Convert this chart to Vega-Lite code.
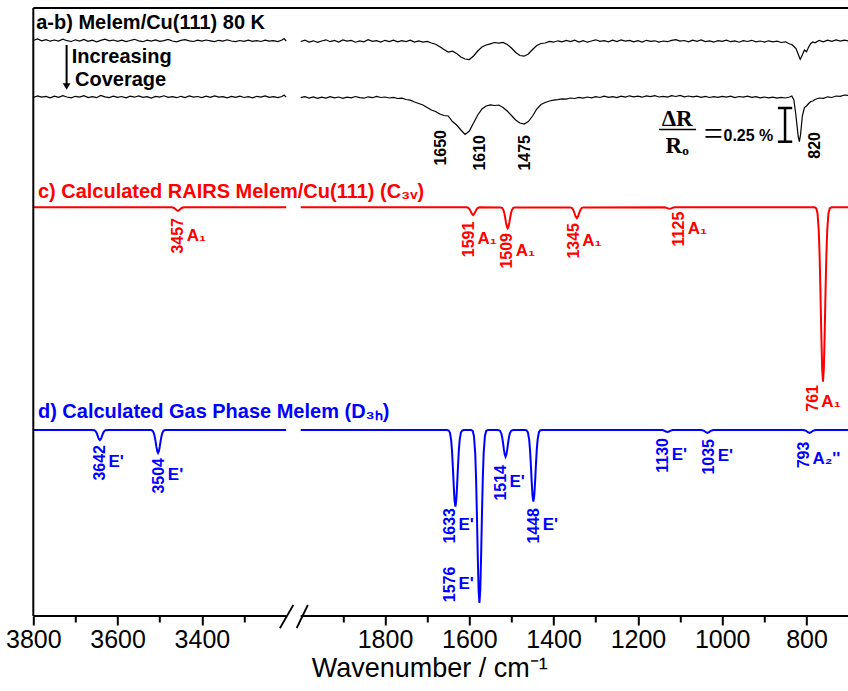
{
"$schema": "https://vega.github.io/schema/vega-lite/v6.json",
"width": 815,
"height": 608,
"autosize": "none",
"padding": {"left": 33.3, "top": 8, "right": 0, "bottom": 75},
"background": "white",
"config": {"view": {"stroke": null}},
"resolve": {"axis": {"x": "independent"}},
"datasets": {
"a": [
{"wn":3800,"v":575.5,"seg":"L"},{"wn":3790,"v":577.0,"seg":"L"},{"wn":3780,"v":575.2,"seg":"L"},{"wn":3770,"v":576.4,"seg":"L"},{"wn":3760,"v":574.8,"seg":"L"},{"wn":3750,"v":576.0,"seg":"L"},{"wn":3740,"v":575.0,"seg":"L"},{"wn":3730,"v":576.8,"seg":"L"},{"wn":3720,"v":575.3,"seg":"L"},{"wn":3710,"v":574.5,"seg":"L"},{"wn":3700,"v":576.2,"seg":"L"},{"wn":3690,"v":575.0,"seg":"L"},{"wn":3680,"v":576.5,"seg":"L"},{"wn":3670,"v":574.6,"seg":"L"},{"wn":3660,"v":575.8,"seg":"L"},{"wn":3650,"v":574.2,"seg":"L"},{"wn":3640,"v":575.6,"seg":"L"},{"wn":3630,"v":576.9,"seg":"L"},{"wn":3620,"v":575.1,"seg":"L"},{"wn":3610,"v":576.0,"seg":"L"},{"wn":3600,"v":574.7,"seg":"L"},{"wn":3590,"v":575.9,"seg":"L"},{"wn":3580,"v":574.4,"seg":"L"},{"wn":3570,"v":575.5,"seg":"L"},{"wn":3560,"v":576.7,"seg":"L"},{"wn":3550,"v":575.2,"seg":"L"},{"wn":3540,"v":574.3,"seg":"L"},{"wn":3530,"v":575.8,"seg":"L"},{"wn":3520,"v":574.9,"seg":"L"},{"wn":3510,"v":576.1,"seg":"L"},{"wn":3500,"v":574.6,"seg":"L"},{"wn":3490,"v":575.4,"seg":"L"},{"wn":3480,"v":576.6,"seg":"L"},{"wn":3470,"v":575.0,"seg":"L"},{"wn":3460,"v":574.2,"seg":"L"},{"wn":3450,"v":575.6,"seg":"L"},{"wn":3440,"v":576.3,"seg":"L"},{"wn":3430,"v":575.1,"seg":"L"},{"wn":3420,"v":574.5,"seg":"L"},{"wn":3410,"v":575.9,"seg":"L"},{"wn":3400,"v":574.8,"seg":"L"},{"wn":3390,"v":576.0,"seg":"L"},{"wn":3380,"v":575.2,"seg":"L"},{"wn":3370,"v":574.4,"seg":"L"},{"wn":3360,"v":575.7,"seg":"L"},{"wn":3350,"v":574.9,"seg":"L"},{"wn":3340,"v":576.2,"seg":"L"},{"wn":3330,"v":575.0,"seg":"L"},{"wn":3320,"v":574.3,"seg":"L"},{"wn":3310,"v":575.5,"seg":"L"},{"wn":3300,"v":574.6,"seg":"L"},{"wn":3290,"v":575.8,"seg":"L"},{"wn":3280,"v":574.7,"seg":"L"},{"wn":3270,"v":575.4,"seg":"L"},{"wn":3260,"v":574.5,"seg":"L"},{"wn":3250,"v":575.9,"seg":"L"},{"wn":3240,"v":574.8,"seg":"L"},{"wn":3230,"v":575.3,"seg":"L"},{"wn":3220,"v":574.4,"seg":"L"},{"wn":3210,"v":576.0,"seg":"L"},{"wn":3205,"v":577.5,"seg":"L"},{"wn":3200,"v":575.0,"seg":"L"},
{"wn":2000,"v":574.5,"seg":"R"},{"wn":1990,"v":575.8,"seg":"R"},{"wn":1980,"v":574.0,"seg":"R"},{"wn":1970,"v":575.2,"seg":"R"},{"wn":1960,"v":573.6,"seg":"R"},{"wn":1950,"v":575.0,"seg":"R"},{"wn":1940,"v":576.2,"seg":"R"},{"wn":1930,"v":574.3,"seg":"R"},{"wn":1920,"v":575.5,"seg":"R"},{"wn":1910,"v":574.0,"seg":"R"},{"wn":1900,"v":576.0,"seg":"R"},{"wn":1890,"v":574.8,"seg":"R"},{"wn":1880,"v":575.6,"seg":"R"},{"wn":1870,"v":573.8,"seg":"R"},{"wn":1860,"v":575.1,"seg":"R"},{"wn":1850,"v":574.2,"seg":"R"},{"wn":1840,"v":576.3,"seg":"R"},{"wn":1830,"v":574.6,"seg":"R"},{"wn":1820,"v":575.4,"seg":"R"},{"wn":1810,"v":573.9,"seg":"R"},{"wn":1800,"v":575.7,"seg":"R"},{"wn":1790,"v":574.5,"seg":"R"},{"wn":1780,"v":575.9,"seg":"R"},{"wn":1770,"v":574.1,"seg":"R"},{"wn":1760,"v":575.3,"seg":"R"},{"wn":1750,"v":574.4,"seg":"R"},{"wn":1740,"v":575.8,"seg":"R"},{"wn":1730,"v":574.0,"seg":"R"},{"wn":1720,"v":575.1,"seg":"R"},{"wn":1710,"v":573.9,"seg":"R"},{"wn":1700,"v":574.6,"seg":"R"},{"wn":1690,"v":573.0,"seg":"R"},{"wn":1680,"v":571.8,"seg":"R"},{"wn":1670,"v":569.2,"seg":"R"},{"wn":1660,"v":566.5,"seg":"R"},{"wn":1650,"v":564.0,"seg":"R"},{"wn":1640,"v":564.8,"seg":"R"},{"wn":1630,"v":562.5,"seg":"R"},{"wn":1620,"v":559.0,"seg":"R"},{"wn":1610,"v":557.0,"seg":"R"},{"wn":1600,"v":556.5,"seg":"R"},{"wn":1590,"v":560.0,"seg":"R"},{"wn":1580,"v":565.0,"seg":"R"},{"wn":1570,"v":569.0,"seg":"R"},{"wn":1560,"v":571.0,"seg":"R"},{"wn":1550,"v":572.2,"seg":"R"},{"wn":1540,"v":573.5,"seg":"R"},{"wn":1530,"v":572.8,"seg":"R"},{"wn":1520,"v":573.6,"seg":"R"},{"wn":1510,"v":571.5,"seg":"R"},{"wn":1500,"v":568.0,"seg":"R"},{"wn":1490,"v":563.5,"seg":"R"},{"wn":1480,"v":560.5,"seg":"R"},{"wn":1470,"v":559.8,"seg":"R"},{"wn":1460,"v":562.0,"seg":"R"},{"wn":1450,"v":566.5,"seg":"R"},{"wn":1440,"v":570.5,"seg":"R"},{"wn":1430,"v":572.5,"seg":"R"},{"wn":1420,"v":573.0,"seg":"R"},{"wn":1410,"v":574.6,"seg":"R"},{"wn":1400,"v":573.8,"seg":"R"},{"wn":1390,"v":575.2,"seg":"R"},{"wn":1380,"v":574.1,"seg":"R"},{"wn":1370,"v":575.6,"seg":"R"},{"wn":1360,"v":574.4,"seg":"R"},{"wn":1350,"v":575.9,"seg":"R"},{"wn":1340,"v":574.0,"seg":"R"},{"wn":1330,"v":575.4,"seg":"R"},{"wn":1320,"v":573.8,"seg":"R"},{"wn":1310,"v":575.0,"seg":"R"},{"wn":1300,"v":576.2,"seg":"R"},{"wn":1290,"v":574.6,"seg":"R"},{"wn":1280,"v":575.3,"seg":"R"},{"wn":1270,"v":574.2,"seg":"R"},{"wn":1260,"v":575.8,"seg":"R"},{"wn":1250,"v":574.5,"seg":"R"},{"wn":1240,"v":576.0,"seg":"R"},{"wn":1230,"v":574.9,"seg":"R"},{"wn":1220,"v":575.6,"seg":"R"},{"wn":1210,"v":574.1,"seg":"R"},{"wn":1200,"v":575.4,"seg":"R"},{"wn":1190,"v":574.0,"seg":"R"},{"wn":1180,"v":575.7,"seg":"R"},{"wn":1170,"v":574.6,"seg":"R"},{"wn":1160,"v":575.2,"seg":"R"},{"wn":1150,"v":573.9,"seg":"R"},{"wn":1140,"v":575.0,"seg":"R"},{"wn":1130,"v":574.3,"seg":"R"},{"wn":1120,"v":575.6,"seg":"R"},{"wn":1110,"v":576.4,"seg":"R"},{"wn":1100,"v":574.9,"seg":"R"},{"wn":1090,"v":575.5,"seg":"R"},{"wn":1080,"v":574.2,"seg":"R"},{"wn":1070,"v":575.8,"seg":"R"},{"wn":1060,"v":574.7,"seg":"R"},{"wn":1050,"v":576.0,"seg":"R"},{"wn":1040,"v":574.4,"seg":"R"},{"wn":1030,"v":575.2,"seg":"R"},{"wn":1020,"v":574.0,"seg":"R"},{"wn":1010,"v":575.4,"seg":"R"},{"wn":1000,"v":574.6,"seg":"R"},{"wn":990,"v":575.9,"seg":"R"},{"wn":980,"v":574.3,"seg":"R"},{"wn":970,"v":575.1,"seg":"R"},{"wn":960,"v":573.8,"seg":"R"},{"wn":950,"v":575.3,"seg":"R"},{"wn":940,"v":574.5,"seg":"R"},{"wn":930,"v":575.7,"seg":"R"},{"wn":920,"v":574.2,"seg":"R"},{"wn":910,"v":575.0,"seg":"R"},{"wn":900,"v":573.9,"seg":"R"},{"wn":890,"v":575.2,"seg":"R"},{"wn":880,"v":574.1,"seg":"R"},{"wn":870,"v":574.8,"seg":"R"},{"wn":860,"v":573.5,"seg":"R"},{"wn":850,"v":574.2,"seg":"R"},{"wn":840,"v":572.0,"seg":"R"},{"wn":835,"v":571.5,"seg":"R"},{"wn":830,"v":569.5,"seg":"R"},{"wn":825,"v":567.5,"seg":"R"},{"wn":820,"v":562.0,"seg":"R"},{"wn":815,"v":556.7,"seg":"R"},{"wn":810,"v":561.0,"seg":"R"},{"wn":805,"v":566.0,"seg":"R"},{"wn":800,"v":564.3,"seg":"R"},{"wn":795,"v":569.0,"seg":"R"},{"wn":790,"v":572.5,"seg":"R"},{"wn":785,"v":574.0,"seg":"R"},{"wn":780,"v":573.2,"seg":"R"},{"wn":770,"v":575.5,"seg":"R"},{"wn":760,"v":574.2,"seg":"R"},{"wn":750,"v":575.8,"seg":"R"},{"wn":740,"v":574.6,"seg":"R"},{"wn":730,"v":576.0,"seg":"R"},{"wn":720,"v":574.8,"seg":"R"},{"wn":710,"v":575.9,"seg":"R"},{"wn":700,"v":575.0,"seg":"R"}
],
"b": [
{"wn":3800,"v":518.5,"seg":"L"},{"wn":3790,"v":520.0,"seg":"L"},{"wn":3780,"v":518.8,"seg":"L"},{"wn":3770,"v":519.6,"seg":"L"},{"wn":3760,"v":518.2,"seg":"L"},{"wn":3750,"v":519.9,"seg":"L"},{"wn":3740,"v":518.6,"seg":"L"},{"wn":3730,"v":520.3,"seg":"L"},{"wn":3720,"v":519.0,"seg":"L"},{"wn":3710,"v":518.1,"seg":"L"},{"wn":3700,"v":519.7,"seg":"L"},{"wn":3690,"v":518.9,"seg":"L"},{"wn":3680,"v":520.4,"seg":"L"},{"wn":3670,"v":518.5,"seg":"L"},{"wn":3660,"v":519.4,"seg":"L"},{"wn":3650,"v":518.3,"seg":"L"},{"wn":3640,"v":520.6,"seg":"L"},{"wn":3630,"v":519.2,"seg":"L"},{"wn":3620,"v":518.4,"seg":"L"},{"wn":3610,"v":519.8,"seg":"L"},{"wn":3600,"v":518.7,"seg":"L"},{"wn":3590,"v":519.5,"seg":"L"},{"wn":3580,"v":518.2,"seg":"L"},{"wn":3570,"v":519.9,"seg":"L"},{"wn":3560,"v":518.8,"seg":"L"},{"wn":3550,"v":520.1,"seg":"L"},{"wn":3540,"v":518.6,"seg":"L"},{"wn":3530,"v":519.3,"seg":"L"},{"wn":3520,"v":518.0,"seg":"L"},{"wn":3510,"v":519.6,"seg":"L"},{"wn":3500,"v":518.9,"seg":"L"},{"wn":3490,"v":520.2,"seg":"L"},{"wn":3480,"v":518.7,"seg":"L"},{"wn":3470,"v":519.4,"seg":"L"},{"wn":3460,"v":518.3,"seg":"L"},{"wn":3450,"v":519.7,"seg":"L"},{"wn":3440,"v":518.5,"seg":"L"},{"wn":3430,"v":520.0,"seg":"L"},{"wn":3420,"v":518.8,"seg":"L"},{"wn":3410,"v":519.5,"seg":"L"},{"wn":3400,"v":518.4,"seg":"L"},{"wn":3390,"v":519.8,"seg":"L"},{"wn":3380,"v":518.6,"seg":"L"},{"wn":3370,"v":520.1,"seg":"L"},{"wn":3360,"v":518.9,"seg":"L"},{"wn":3350,"v":519.3,"seg":"L"},{"wn":3340,"v":518.2,"seg":"L"},{"wn":3330,"v":519.6,"seg":"L"},{"wn":3320,"v":518.7,"seg":"L"},{"wn":3310,"v":519.9,"seg":"L"},{"wn":3300,"v":518.5,"seg":"L"},{"wn":3290,"v":519.4,"seg":"L"},{"wn":3280,"v":518.1,"seg":"L"},{"wn":3270,"v":519.7,"seg":"L"},{"wn":3260,"v":518.8,"seg":"L"},{"wn":3250,"v":520.0,"seg":"L"},{"wn":3240,"v":518.6,"seg":"L"},{"wn":3230,"v":519.3,"seg":"L"},{"wn":3220,"v":518.4,"seg":"L"},{"wn":3210,"v":519.5,"seg":"L"},{"wn":3205,"v":521.0,"seg":"L"},{"wn":3200,"v":518.8,"seg":"L"},
{"wn":2000,"v":518.3,"seg":"R"},{"wn":1990,"v":519.4,"seg":"R"},{"wn":1980,"v":518.0,"seg":"R"},{"wn":1970,"v":519.1,"seg":"R"},{"wn":1960,"v":517.6,"seg":"R"},{"wn":1950,"v":518.8,"seg":"R"},{"wn":1940,"v":517.9,"seg":"R"},{"wn":1930,"v":519.3,"seg":"R"},{"wn":1920,"v":518.2,"seg":"R"},{"wn":1910,"v":519.0,"seg":"R"},{"wn":1900,"v":517.7,"seg":"R"},{"wn":1890,"v":518.9,"seg":"R"},{"wn":1880,"v":518.1,"seg":"R"},{"wn":1870,"v":519.5,"seg":"R"},{"wn":1860,"v":518.4,"seg":"R"},{"wn":1850,"v":517.8,"seg":"R"},{"wn":1840,"v":519.2,"seg":"R"},{"wn":1830,"v":518.3,"seg":"R"},{"wn":1820,"v":519.6,"seg":"R"},{"wn":1810,"v":518.5,"seg":"R"},{"wn":1800,"v":519.0,"seg":"R"},{"wn":1790,"v":518.0,"seg":"R"},{"wn":1780,"v":518.7,"seg":"R"},{"wn":1770,"v":517.5,"seg":"R"},{"wn":1760,"v":517.8,"seg":"R"},{"wn":1750,"v":516.5,"seg":"R"},{"wn":1740,"v":515.8,"seg":"R"},{"wn":1730,"v":514.0,"seg":"R"},{"wn":1720,"v":512.5,"seg":"R"},{"wn":1710,"v":511.0,"seg":"R"},{"wn":1700,"v":508.5,"seg":"R"},{"wn":1690,"v":506.0,"seg":"R"},{"wn":1680,"v":504.5,"seg":"R"},{"wn":1670,"v":502.0,"seg":"R"},{"wn":1660,"v":500.5,"seg":"R"},{"wn":1650,"v":500.0,"seg":"R"},{"wn":1640,"v":494.5,"seg":"R"},{"wn":1630,"v":491.0,"seg":"R"},{"wn":1620,"v":486.0,"seg":"R"},{"wn":1610,"v":481.5,"seg":"R"},{"wn":1600,"v":485.0,"seg":"R"},{"wn":1590,"v":493.0,"seg":"R"},{"wn":1580,"v":501.0,"seg":"R"},{"wn":1570,"v":507.0,"seg":"R"},{"wn":1560,"v":510.0,"seg":"R"},{"wn":1550,"v":511.2,"seg":"R"},{"wn":1540,"v":510.5,"seg":"R"},{"wn":1530,"v":511.0,"seg":"R"},{"wn":1520,"v":508.5,"seg":"R"},{"wn":1510,"v":505.0,"seg":"R"},{"wn":1500,"v":500.5,"seg":"R"},{"wn":1490,"v":496.0,"seg":"R"},{"wn":1480,"v":493.0,"seg":"R"},{"wn":1470,"v":492.0,"seg":"R"},{"wn":1460,"v":494.5,"seg":"R"},{"wn":1450,"v":500.0,"seg":"R"},{"wn":1440,"v":507.0,"seg":"R"},{"wn":1430,"v":511.5,"seg":"R"},{"wn":1420,"v":513.5,"seg":"R"},{"wn":1410,"v":515.0,"seg":"R"},{"wn":1400,"v":515.8,"seg":"R"},{"wn":1390,"v":516.4,"seg":"R"},{"wn":1380,"v":517.2,"seg":"R"},{"wn":1370,"v":516.8,"seg":"R"},{"wn":1360,"v":518.0,"seg":"R"},{"wn":1350,"v":517.5,"seg":"R"},{"wn":1340,"v":518.6,"seg":"R"},{"wn":1330,"v":517.9,"seg":"R"},{"wn":1320,"v":519.0,"seg":"R"},{"wn":1310,"v":518.2,"seg":"R"},{"wn":1300,"v":519.4,"seg":"R"},{"wn":1290,"v":518.5,"seg":"R"},{"wn":1280,"v":519.8,"seg":"R"},{"wn":1270,"v":518.7,"seg":"R"},{"wn":1260,"v":519.3,"seg":"R"},{"wn":1250,"v":518.4,"seg":"R"},{"wn":1240,"v":519.9,"seg":"R"},{"wn":1230,"v":518.9,"seg":"R"},{"wn":1220,"v":520.2,"seg":"R"},{"wn":1210,"v":519.1,"seg":"R"},{"wn":1200,"v":519.8,"seg":"R"},{"wn":1190,"v":518.8,"seg":"R"},{"wn":1180,"v":520.1,"seg":"R"},{"wn":1170,"v":519.3,"seg":"R"},{"wn":1160,"v":520.4,"seg":"R"},{"wn":1150,"v":519.0,"seg":"R"},{"wn":1140,"v":519.7,"seg":"R"},{"wn":1130,"v":518.9,"seg":"R"},{"wn":1120,"v":520.3,"seg":"R"},{"wn":1110,"v":519.5,"seg":"R"},{"wn":1100,"v":520.6,"seg":"R"},{"wn":1090,"v":519.2,"seg":"R"},{"wn":1080,"v":520.0,"seg":"R"},{"wn":1070,"v":519.1,"seg":"R"},{"wn":1060,"v":519.8,"seg":"R"},{"wn":1050,"v":518.7,"seg":"R"},{"wn":1040,"v":519.6,"seg":"R"},{"wn":1030,"v":518.5,"seg":"R"},{"wn":1020,"v":519.4,"seg":"R"},{"wn":1010,"v":518.6,"seg":"R"},{"wn":1000,"v":519.7,"seg":"R"},{"wn":990,"v":518.9,"seg":"R"},{"wn":980,"v":519.8,"seg":"R"},{"wn":970,"v":518.4,"seg":"R"},{"wn":960,"v":519.5,"seg":"R"},{"wn":950,"v":518.8,"seg":"R"},{"wn":940,"v":519.9,"seg":"R"},{"wn":930,"v":518.6,"seg":"R"},{"wn":920,"v":519.3,"seg":"R"},{"wn":910,"v":518.2,"seg":"R"},{"wn":900,"v":519.0,"seg":"R"},{"wn":890,"v":518.1,"seg":"R"},{"wn":880,"v":518.8,"seg":"R"},{"wn":870,"v":517.9,"seg":"R"},{"wn":860,"v":518.6,"seg":"R"},{"wn":850,"v":518.0,"seg":"R"},{"wn":840,"v":519.0,"seg":"R"},{"wn":835,"v":520.0,"seg":"R"},{"wn":830,"v":516.0,"seg":"R"},{"wn":825,"v":500.0,"seg":"R"},{"wn":820,"v":480.0,"seg":"R"},{"wn":817,"v":474.3,"seg":"R"},{"wn":814,"v":482.0,"seg":"R"},{"wn":810,"v":500.0,"seg":"R"},{"wn":805,"v":508.5,"seg":"R"},{"wn":800,"v":510.0,"seg":"R"},{"wn":795,"v":512.5,"seg":"R"},{"wn":790,"v":514.5,"seg":"R"},{"wn":785,"v":515.0,"seg":"R"},{"wn":780,"v":516.5,"seg":"R"},{"wn":770,"v":518.0,"seg":"R"},{"wn":760,"v":517.6,"seg":"R"},{"wn":750,"v":519.2,"seg":"R"},{"wn":740,"v":518.5,"seg":"R"},{"wn":730,"v":520.0,"seg":"R"},{"wn":720,"v":519.6,"seg":"R"},{"wn":710,"v":521.0,"seg":"R"},{"wn":700,"v":520.5,"seg":"R"}
],
"c": [
{"wn":3800,"v":408.7,"seg":"L"},{"wn":3473,"v":408.7,"seg":"L"},{"wn":3469,"v":408.5,"seg":"L"},{"wn":3466,"v":408.0,"seg":"L"},{"wn":3463,"v":407.0,"seg":"L"},{"wn":3460,"v":405.8,"seg":"L"},{"wn":3457,"v":405.2,"seg":"L"},{"wn":3454,"v":405.8,"seg":"L"},{"wn":3451,"v":407.0,"seg":"L"},{"wn":3448,"v":408.0,"seg":"L"},{"wn":3445,"v":408.5,"seg":"L"},{"wn":3441,"v":408.7,"seg":"L"},{"wn":3200,"v":408.7,"seg":"L"},
{"wn":2000,"v":408.7,"seg":"R"},{"wn":1607,"v":408.7,"seg":"R"},{"wn":1603,"v":408.3,"seg":"R"},{"wn":1600,"v":407.2,"seg":"R"},{"wn":1597,"v":404.9,"seg":"R"},{"wn":1594,"v":402.3,"seg":"R"},{"wn":1591,"v":401.0,"seg":"R"},{"wn":1588,"v":402.3,"seg":"R"},{"wn":1585,"v":404.9,"seg":"R"},{"wn":1582,"v":407.2,"seg":"R"},{"wn":1579,"v":408.3,"seg":"R"},{"wn":1575,"v":408.7,"seg":"R"},
{"wn":1525,"v":408.6,"seg":"R"},{"wn":1522,"v":408.0,"seg":"R"},{"wn":1519,"v":405.9,"seg":"R"},{"wn":1517,"v":402.9,"seg":"R"},{"wn":1515,"v":398.5,"seg":"R"},{"wn":1513,"v":393.5,"seg":"R"},{"wn":1511,"v":389.3,"seg":"R"},{"wn":1509,"v":387.7,"seg":"R"},{"wn":1507,"v":389.3,"seg":"R"},{"wn":1505,"v":393.5,"seg":"R"},{"wn":1503,"v":398.5,"seg":"R"},{"wn":1501,"v":402.9,"seg":"R"},{"wn":1499,"v":405.9,"seg":"R"},{"wn":1496,"v":408.0,"seg":"R"},{"wn":1493,"v":408.6,"seg":"R"},
{"wn":1361,"v":408.6,"seg":"R"},{"wn":1357,"v":408.1,"seg":"R"},{"wn":1354,"v":406.6,"seg":"R"},{"wn":1351,"v":403.5,"seg":"R"},{"wn":1348,"v":399.8,"seg":"R"},{"wn":1345,"v":398.0,"seg":"R"},{"wn":1342,"v":399.8,"seg":"R"},{"wn":1339,"v":403.5,"seg":"R"},{"wn":1336,"v":406.6,"seg":"R"},{"wn":1333,"v":408.1,"seg":"R"},{"wn":1329,"v":408.6,"seg":"R"},
{"wn":1137,"v":408.7,"seg":"R"},{"wn":1133,"v":408.3,"seg":"R"},{"wn":1129,"v":407.6,"seg":"R"},{"wn":1125,"v":407.2,"seg":"R"},{"wn":1121,"v":407.6,"seg":"R"},{"wn":1117,"v":408.3,"seg":"R"},{"wn":1113,"v":408.7,"seg":"R"},
{"wn":781,"v":408.7,"seg":"R"},{"wn":777,"v":407.7,"seg":"R"},{"wn":774,"v":402.8,"seg":"R"},{"wn":771,"v":385.2,"seg":"R"},{"wn":769,"v":360.2,"seg":"R"},{"wn":767,"v":323.8,"seg":"R"},{"wn":765,"v":282.1,"seg":"R"},{"wn":763,"v":247.7,"seg":"R"},{"wn":761,"v":234.3,"seg":"R"},{"wn":759,"v":247.7,"seg":"R"},{"wn":757,"v":282.1,"seg":"R"},{"wn":755,"v":323.8,"seg":"R"},{"wn":753,"v":360.2,"seg":"R"},{"wn":751,"v":385.2,"seg":"R"},{"wn":748,"v":402.8,"seg":"R"},{"wn":745,"v":407.7,"seg":"R"},{"wn":741,"v":408.7,"seg":"R"},{"wn":700,"v":408.7,"seg":"R"}
],
"d": [
{"wn":3800,"v":186,"seg":"L"},{"wn":3662,"v":186,"seg":"L"},{"wn":3655,"v":185.7,"seg":"L"},{"wn":3652,"v":184.7,"seg":"L"},{"wn":3650,"v":183.2,"seg":"L"},{"wn":3648,"v":181.1,"seg":"L"},{"wn":3646,"v":178.7,"seg":"L"},{"wn":3644,"v":176.8,"seg":"L"},{"wn":3642,"v":176.0,"seg":"L"},{"wn":3640,"v":176.8,"seg":"L"},{"wn":3638,"v":178.7,"seg":"L"},{"wn":3636,"v":181.1,"seg":"L"},{"wn":3634,"v":183.2,"seg":"L"},{"wn":3632,"v":184.7,"seg":"L"},{"wn":3629,"v":185.7,"seg":"L"},{"wn":3622,"v":186,"seg":"L"},
{"wn":3524,"v":186,"seg":"L"},{"wn":3520,"v":185.9,"seg":"L"},{"wn":3517,"v":185.2,"seg":"L"},{"wn":3514,"v":182.9,"seg":"L"},{"wn":3512,"v":179.6,"seg":"L"},{"wn":3510,"v":174.8,"seg":"L"},{"wn":3508,"v":169.3,"seg":"L"},{"wn":3506,"v":164.8,"seg":"L"},{"wn":3504,"v":163.0,"seg":"L"},{"wn":3502,"v":164.8,"seg":"L"},{"wn":3500,"v":169.3,"seg":"L"},{"wn":3498,"v":174.8,"seg":"L"},{"wn":3496,"v":179.6,"seg":"L"},{"wn":3494,"v":182.9,"seg":"L"},{"wn":3491,"v":185.2,"seg":"L"},{"wn":3488,"v":185.9,"seg":"L"},{"wn":3484,"v":186,"seg":"L"},{"wn":3200,"v":186,"seg":"L"},
{"wn":2000,"v":186,"seg":"R"},{"wn":1653,"v":186,"seg":"R"},{"wn":1649,"v":185.5,"seg":"R"},{"wn":1646,"v":183.4,"seg":"R"},{"wn":1643,"v":175.6,"seg":"R"},{"wn":1641,"v":164.7,"seg":"R"},{"wn":1639,"v":148.6,"seg":"R"},{"wn":1637,"v":130.3,"seg":"R"},{"wn":1635,"v":115.2,"seg":"R"},{"wn":1633,"v":109.3,"seg":"R"},{"wn":1631,"v":115.2,"seg":"R"},{"wn":1629,"v":130.3,"seg":"R"},{"wn":1627,"v":148.6,"seg":"R"},{"wn":1625,"v":164.7,"seg":"R"},{"wn":1623,"v":175.6,"seg":"R"},{"wn":1620,"v":183.4,"seg":"R"},{"wn":1617,"v":185.5,"seg":"R"},{"wn":1613,"v":186,"seg":"R"},
{"wn":1596,"v":186,"seg":"R"},{"wn":1592,"v":185.0,"seg":"R"},{"wn":1589,"v":180.1,"seg":"R"},{"wn":1586,"v":162.6,"seg":"R"},{"wn":1584,"v":137.9,"seg":"R"},{"wn":1582,"v":101.7,"seg":"R"},{"wn":1580,"v":60.4,"seg":"R"},{"wn":1578,"v":26.3,"seg":"R"},{"wn":1576,"v":13.0,"seg":"R"},{"wn":1574,"v":26.3,"seg":"R"},{"wn":1572,"v":60.4,"seg":"R"},{"wn":1570,"v":101.7,"seg":"R"},{"wn":1568,"v":137.9,"seg":"R"},{"wn":1566,"v":162.6,"seg":"R"},{"wn":1563,"v":180.1,"seg":"R"},{"wn":1560,"v":185.0,"seg":"R"},{"wn":1556,"v":186,"seg":"R"},
{"wn":1534,"v":186,"seg":"R"},{"wn":1530,"v":185.8,"seg":"R"},{"wn":1527,"v":185.1,"seg":"R"},{"wn":1524,"v":182.4,"seg":"R"},{"wn":1522,"v":178.6,"seg":"R"},{"wn":1520,"v":173.0,"seg":"R"},{"wn":1518,"v":166.6,"seg":"R"},{"wn":1516,"v":161.4,"seg":"R"},{"wn":1514,"v":159.3,"seg":"R"},{"wn":1512,"v":161.4,"seg":"R"},{"wn":1510,"v":166.6,"seg":"R"},{"wn":1508,"v":173.0,"seg":"R"},{"wn":1506,"v":178.6,"seg":"R"},{"wn":1504,"v":182.4,"seg":"R"},{"wn":1501,"v":185.1,"seg":"R"},{"wn":1498,"v":185.8,"seg":"R"},{"wn":1494,"v":186,"seg":"R"},
{"wn":1468,"v":186,"seg":"R"},{"wn":1464,"v":185.6,"seg":"R"},{"wn":1461,"v":183.6,"seg":"R"},{"wn":1458,"v":176.3,"seg":"R"},{"wn":1456,"v":166.1,"seg":"R"},{"wn":1454,"v":151.1,"seg":"R"},{"wn":1452,"v":133.9,"seg":"R"},{"wn":1450,"v":119.8,"seg":"R"},{"wn":1448,"v":114.3,"seg":"R"},{"wn":1446,"v":119.8,"seg":"R"},{"wn":1444,"v":133.9,"seg":"R"},{"wn":1442,"v":151.1,"seg":"R"},{"wn":1440,"v":166.1,"seg":"R"},{"wn":1438,"v":176.3,"seg":"R"},{"wn":1435,"v":183.6,"seg":"R"},{"wn":1432,"v":185.6,"seg":"R"},{"wn":1428,"v":186,"seg":"R"},
{"wn":1146,"v":186,"seg":"R"},{"wn":1142,"v":185.9,"seg":"R"},{"wn":1138,"v":185.4,"seg":"R"},{"wn":1134,"v":184.5,"seg":"R"},{"wn":1130,"v":184.0,"seg":"R"},{"wn":1126,"v":184.5,"seg":"R"},{"wn":1122,"v":185.4,"seg":"R"},{"wn":1118,"v":185.9,"seg":"R"},{"wn":1114,"v":186,"seg":"R"},
{"wn":1051,"v":186,"seg":"R"},{"wn":1047,"v":185.8,"seg":"R"},{"wn":1043,"v":185.2,"seg":"R"},{"wn":1039,"v":183.8,"seg":"R"},{"wn":1035,"v":183.0,"seg":"R"},{"wn":1031,"v":183.8,"seg":"R"},{"wn":1027,"v":185.2,"seg":"R"},{"wn":1023,"v":185.8,"seg":"R"},{"wn":1019,"v":186,"seg":"R"},
{"wn":809,"v":186,"seg":"R"},{"wn":805,"v":185.8,"seg":"R"},{"wn":801,"v":185.2,"seg":"R"},{"wn":797,"v":183.8,"seg":"R"},{"wn":793,"v":183.0,"seg":"R"},{"wn":789,"v":183.8,"seg":"R"},{"wn":785,"v":185.2,"seg":"R"},{"wn":781,"v":185.8,"seg":"R"},{"wn":777,"v":186,"seg":"R"},{"wn":700,"v":186,"seg":"R"}
],
"peaks": [
{"trace":"b","num":"1650","sym":"","lx":1666,"ly":486},
{"trace":"b","num":"1610","sym":"","lx":1575,"ly":481},
{"trace":"b","num":"1475","sym":"","lx":1468,"ly":481},
{"trace":"b","num":"820","sym":"","lx":780,"ly":484},
{"trace":"c","num":"3457","sym":"A₁","lx":3456,"ly":398},
{"trace":"c","num":"1591","sym":"A₁","lx":1601,"ly":394.3},
{"trace":"c","num":"1509","sym":"A₁","lx":1510,"ly":383},
{"trace":"c","num":"1345","sym":"A₁","lx":1352,"ly":393},
{"trace":"c","num":"1125","sym":"A₁","lx":1102,"ly":404.3},
{"trace":"c","num":"761","sym":"A₁","lx":785,"ly":231},
{"trace":"d","num":"3642","sym":"E'","lx":3642,"ly":171},
{"trace":"d","num":"3504","sym":"E'","lx":3501,"ly":158},
{"trace":"d","num":"1633","sym":"E'","lx":1646,"ly":108},
{"trace":"d","num":"1576","sym":"E'","lx":1646,"ly":49.3},
{"trace":"d","num":"1514","sym":"E'","lx":1525,"ly":151},
{"trace":"d","num":"1448","sym":"E'","lx":1446,"ly":108},
{"trace":"d","num":"1130","sym":"E'","lx":1140,"ly":178},
{"trace":"d","num":"1035","sym":"E'","lx":1031,"ly":177},
{"trace":"d","num":"793","sym":"A₂''","lx":806,"ly":174.3}
]
},
"layer": [
{"data": {"name": "a"}, "mark": {"type": "line", "color": "black", "strokeWidth": 1.2},
 "encoding": {"detail": {"field": "seg"},
  "x": {"field": "wn", "type": "quantitative",
   "scale": {"domain": [3800, 3200, 2000, 700], "range": [0, 252.9, 267.4, 815.4], "nice": false, "zero": false},
   "axis": {
    "orient": "bottom",
    "values": [3800,3600,3400,1800,1600,1400,1200,1000,800],
    "format": "d",
    "domain": false, "grid": false,
    "ticks": true, "tickColor": "black", "tickWidth": 2, "tickSize": 9,
    "labelFont": "Liberation Sans", "labelFontSize": 25, "labelColor": "black", "labelPadding": 3,
    "labelFlush": false, "labelOverlap": false,
    "title": "Wavenumber / cm⁻¹", "titleFont": "Liberation Sans", "titleFontSize": 27, "titleFontWeight": "normal", "titleColor": "black",
    "titleX": 396, "titleY": 61, "titleAlign": "center", "titleBaseline": "alphabetic"
   }},
  "y": {"field": "v", "type": "quantitative", "scale": {"domain": [0, 608], "nice": false, "zero": false}, "axis": null}}},
{"data": {"name": "b"}, "mark": {"type": "line", "color": "black", "strokeWidth": 1.2},
 "encoding": {"detail": {"field": "seg"},
  "x": {"field": "wn", "type": "quantitative",
   "axis": {
    "orient": "bottom",
    "values": [3700,3500,3300,1900,1700,1500,1300,1100,900],
    "domain": false, "grid": false, "labels": false, "title": null,
    "ticks": true, "tickColor": "black", "tickWidth": 2, "tickSize": 6
   }},
  "y": {"field": "v", "type": "quantitative", "axis": null}}},
{"data": {"name": "c"}, "mark": {"type": "line", "color": "#ff0000", "strokeWidth": 2},
 "encoding": {"detail": {"field": "seg"}, "x": {"field": "wn", "type": "quantitative", "axis": null}, "y": {"field": "v", "type": "quantitative", "axis": null}}},
{"data": {"name": "d"}, "mark": {"type": "line", "color": "#0000ff", "strokeWidth": 2},
 "encoding": {"detail": {"field": "seg"}, "x": {"field": "wn", "type": "quantitative", "axis": null}, "y": {"field": "v", "type": "quantitative", "axis": null}}},
{"data": {"values": [{}]}, "mark": {"type": "rule", "color": "black", "strokeWidth": 2},
 "encoding": {"x": {"datum": 3800, "type": "quantitative", "axis": null}, "x2": {"datum": 3200}, "y": {"datum": 0, "type": "quantitative", "axis": null}}},
{"data": {"values": [{}]}, "mark": {"type": "rule", "color": "black", "strokeWidth": 2},
 "encoding": {"x": {"datum": 2000, "type": "quantitative", "axis": null}, "x2": {"datum": 700}, "y": {"datum": 0, "type": "quantitative", "axis": null}}},
{"data": {"values": [{}]}, "mark": {"type": "rule", "color": "black", "strokeWidth": 2},
 "encoding": {"x": {"datum": 3800, "type": "quantitative", "axis": null}, "x2": {"datum": 700}, "y": {"datum": 608, "type": "quantitative", "axis": null}}},
{"data": {"values": [{}]}, "mark": {"type": "rule", "color": "black", "strokeWidth": 2},
 "encoding": {"x": {"datum": 3800, "type": "quantitative", "axis": null}, "y": {"datum": 0, "type": "quantitative", "axis": null}, "y2": {"datum": 608}}},
{"data": {"values": [{}]}, "mark": {"type": "rule", "color": "black", "strokeWidth": 1.8},
 "encoding": {"x": {"datum": 3215, "type": "quantitative", "axis": null}, "x2": {"datum": 2612}, "y": {"datum": -12.3, "type": "quantitative", "axis": null}, "y2": {"datum": 11}}},
{"data": {"values": [{}]}, "mark": {"type": "rule", "color": "black", "strokeWidth": 1.8},
 "encoding": {"x": {"datum": 2331, "type": "quantitative", "axis": null}, "x2": {"datum": 1983}, "y": {"datum": -12, "type": "quantitative", "axis": null}, "y2": {"datum": 11}}},
{"data": {"name": "peaks"}, "mark": {"type": "text", "angle": 270, "align": "right", "baseline": "middle", "font": "Liberation Sans", "fontWeight": "bold", "fontSize": 16},
 "encoding": {"x": {"field": "lx", "type": "quantitative", "axis": null}, "y": {"field": "ly", "type": "quantitative", "axis": null}, "text": {"field": "num"},
  "color": {"field": "trace", "type": "nominal", "scale": {"domain": ["b", "c", "d"], "range": ["#000000", "#ff0000", "#0000ff"]}, "legend": null}}},
{"data": {"name": "peaks"}, "mark": {"type": "text", "align": "left", "baseline": "middle", "dx": 8.5, "dy": 17.5, "font": "Liberation Sans", "fontWeight": "bold", "fontSize": 17},
 "encoding": {"x": {"field": "lx", "type": "quantitative", "axis": null}, "y": {"field": "ly", "type": "quantitative", "axis": null}, "text": {"field": "sym"},
  "color": {"field": "trace", "type": "nominal", "legend": null}}},
{"data": {"values": [{}]}, "mark": {"type": "text", "text": "a-b) Melem/Cu(111) 80 K", "align": "left", "baseline": "middle", "font": "Liberation Sans", "fontWeight": "bold", "fontSize": 20, "color": "black"},
 "encoding": {"x": {"datum": 3793, "type": "quantitative", "axis": null}, "y": {"datum": 593, "type": "quantitative", "axis": null}}},
{"data": {"values": [{}]}, "mark": {"type": "text", "text": "Increasing", "align": "left", "baseline": "middle", "font": "Liberation Sans", "fontWeight": "bold", "fontSize": 20, "color": "black"},
 "encoding": {"x": {"datum": 3709, "type": "quantitative", "axis": null}, "y": {"datum": 559.3, "type": "quantitative", "axis": null}}},
{"data": {"values": [{}]}, "mark": {"type": "text", "text": "Coverage", "align": "left", "baseline": "middle", "font": "Liberation Sans", "fontWeight": "bold", "fontSize": 20, "color": "black"},
 "encoding": {"x": {"datum": 3701, "type": "quantitative", "axis": null}, "y": {"datum": 536, "type": "quantitative", "axis": null}}},
{"data": {"values": [{}]}, "mark": {"type": "rule", "color": "black", "strokeWidth": 2},
 "encoding": {"x": {"datum": 3721, "type": "quantitative", "axis": null}, "y": {"datum": 571, "type": "quantitative", "axis": null}, "y2": {"datum": 531}}},
{"data": {"values": [{}]}, "mark": {"type": "point", "shape": "triangle-down", "filled": true, "color": "black", "opacity": 1, "size": 60},
 "encoding": {"x": {"datum": 3721, "type": "quantitative", "axis": null}, "y": {"datum": 529.5, "type": "quantitative", "axis": null}}},
{"data": {"values": [{}]}, "mark": {"type": "text", "text": "c) Calculated RAIRS Melem/Cu(111) (C₃ᵥ)", "align": "left", "baseline": "middle", "font": "Liberation Sans", "fontWeight": "bold", "fontSize": 20, "color": "#ff0000"},
 "encoding": {"x": {"datum": 3789, "type": "quantitative", "axis": null}, "y": {"datum": 424.5, "type": "quantitative", "axis": null}}},
{"data": {"values": [{}]}, "mark": {"type": "text", "text": "d) Calculated Gas Phase Melem (D₃ₕ)", "align": "left", "baseline": "middle", "font": "Liberation Sans", "fontWeight": "bold", "fontSize": 20, "color": "#0000ff"},
 "encoding": {"x": {"datum": 3789, "type": "quantitative", "axis": null}, "y": {"datum": 204, "type": "quantitative", "axis": null}}},
{"data": {"values": [{}]}, "mark": {"type": "rule", "color": "black", "strokeWidth": 2.5},
 "encoding": {"x": {"datum": 851, "type": "quantitative", "axis": null}, "y": {"datum": 474.3, "type": "quantitative", "axis": null}, "y2": {"datum": 508}}},
{"data": {"values": [{}]}, "mark": {"type": "rule", "color": "black", "strokeWidth": 2.5},
 "encoding": {"x": {"datum": 868, "type": "quantitative", "axis": null}, "x2": {"datum": 834}, "y": {"datum": 508, "type": "quantitative", "axis": null}}},
{"data": {"values": [{}]}, "mark": {"type": "rule", "color": "black", "strokeWidth": 2.5},
 "encoding": {"x": {"datum": 868, "type": "quantitative", "axis": null}, "x2": {"datum": 834}, "y": {"datum": 474.3, "type": "quantitative", "axis": null}}},
{"data": {"values": [{}]}, "mark": {"type": "text", "text": "ΔR", "align": "center", "baseline": "middle", "font": "Liberation Serif", "fontWeight": "bold", "fontSize": 23, "color": "black"},
 "encoding": {"x": {"datum": 1107, "type": "quantitative", "axis": null}, "y": {"datum": 497, "type": "quantitative", "axis": null}}},
{"data": {"values": [{}]}, "mark": {"type": "rule", "color": "black", "strokeWidth": 1.5},
 "encoding": {"x": {"datum": 1150, "type": "quantitative", "axis": null}, "x2": {"datum": 1062}, "y": {"datum": 486.5, "type": "quantitative", "axis": null}}},
{"data": {"values": [{}]}, "mark": {"type": "text", "text": "Rₒ", "align": "center", "baseline": "middle", "font": "Liberation Serif", "fontWeight": "bold", "fontSize": 23, "color": "black"},
 "encoding": {"x": {"datum": 1107, "type": "quantitative", "axis": null}, "y": {"datum": 470, "type": "quantitative", "axis": null}}},
{"data": {"values": [{}]}, "mark": {"type": "text", "text": "=", "align": "center", "baseline": "middle", "font": "Liberation Serif", "fontSize": 34, "color": "black"},
 "encoding": {"x": {"datum": 1021, "type": "quantitative", "axis": null}, "y": {"datum": 481, "type": "quantitative", "axis": null}}},
{"data": {"values": [{}]}, "mark": {"type": "text", "text": "0.25 %", "align": "left", "baseline": "middle", "font": "Liberation Sans", "fontWeight": "bold", "fontSize": 16, "color": "black"},
 "encoding": {"x": {"datum": 997, "type": "quantitative", "axis": null}, "y": {"datum": 480, "type": "quantitative", "axis": null}}}
]
}
